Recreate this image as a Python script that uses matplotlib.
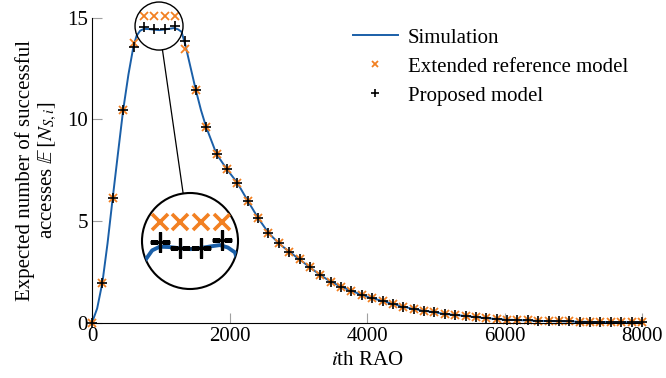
import numpy as np
import matplotlib
matplotlib.use("Agg")
import matplotlib.pyplot as plt
from matplotlib.patches import Circle, Ellipse
from matplotlib.lines import Line2D

plt.rcParams['font.family'] = ['Liberation Serif', 'DejaVu Serif']
plt.rcParams['mathtext.fontset'] = 'stix'
plt.rcParams['font.size'] = 15

# RAO index of the model samples
rao = np.linspace(0, 8000, 54)

proposed = [0, 1.97, 6.15, 10.45, 13.55, 14.55, 14.42, 14.42, 14.6, 13.86,
            11.45, 9.62, 8.29, 7.54, 6.88, 6.0, 5.15, 4.42, 3.90, 3.49,
            3.11, 2.72, 2.34, 2.02, 1.77, 1.57, 1.36, 1.20, 1.07, 0.92,
            0.79, 0.67, 0.59, 0.51, 0.43, 0.38, 0.33, 0.27, 0.22, 0.18,
            0.15, 0.13, 0.11, 0.09, 0.08, 0.07, 0.06, 0.05, 0.04, 0.035,
            0.03, 0.025, 0.02, 0.02]
extended = [0, 1.97, 6.15, 10.45, 13.75, 15.05, 15.05, 15.05, 15.05, 13.43,
            11.45, 9.62, 8.29, 7.54, 6.88, 6.0, 5.15, 4.42, 3.90, 3.49,
            3.11, 2.72, 2.34, 2.02, 1.77, 1.57, 1.36, 1.20, 1.07, 0.92,
            0.79, 0.67, 0.59, 0.51, 0.43, 0.38, 0.33, 0.27, 0.22, 0.18,
            0.15, 0.13, 0.11, 0.09, 0.08, 0.07, 0.06, 0.05, 0.04, 0.035,
            0.03, 0.025, 0.02, 0.02]

sim_x = [0, 75, 151, 226, 302, 377, 453, 530, 604, 648, 700, 755, 830, 906,
         980, 1057, 1130, 1193, 1250, 1302, 1358, 1430, 1509, 1585, 1660,
         1811, 1962, 2113, 2264, 2415, 2566, 2717, 2868, 3019, 3170, 3321,
         3472, 3623, 3774, 3925, 4075, 4226, 4377, 4528, 4679, 4830, 4981,
         5132, 5283, 5434, 5585, 5736, 5887, 6038, 6189, 6340, 6491, 6642,
         6792, 6943, 7094, 7245, 7396, 7547, 7698, 7849, 8000]
sim_y = [0, 0.7, 1.97, 3.9, 6.15, 8.3, 10.45, 12.2, 13.6, 14.1, 14.35, 14.44,
         14.43, 14.40, 14.38, 14.41, 14.45, 14.48, 14.42, 14.3, 13.65, 12.6,
         11.45, 10.45, 9.62, 8.29, 7.54, 6.88, 6.0, 5.15, 4.42, 3.90, 3.49,
         3.11, 2.72, 2.34, 2.02, 1.77, 1.57, 1.36, 1.20, 1.07, 0.92, 0.79,
         0.67, 0.59, 0.51, 0.43, 0.38, 0.33, 0.27, 0.22, 0.18, 0.15, 0.13,
         0.11, 0.09, 0.08, 0.07, 0.06, 0.05, 0.04, 0.035, 0.03, 0.025, 0.02,
         0.02]

blue = '#1a5fa8'
orange = '#f28022'

W, H = 666, 378
fig = plt.figure(figsize=(W / 100, H / 100), dpi=100)
ax = fig.add_axes([92 / W, 1 - 322.7 / H, 550 / W, 305.2 / H])


def draw(a, k=1.0):
    a.plot(sim_x, sim_y, color=blue, lw=1.4 * k, label='Simulation')
    a.plot(rao, extended, 'x', color=orange, ms=5.8 * k, mew=1.3 * k,
           label='Extended reference model')
    a.plot(rao, proposed, '+', color='black', ms=7.5 * k, mew=1.2 * k,
           label='Proposed model')


draw(ax)
for m in ax.lines[1:]:
    m.set_clip_on(False)
ax.set_xlim(0, 8000)
ax.set_ylim(0, 15)
ax.set_xticks([0, 2000, 4000, 6000, 8000])
ax.set_yticks([0, 5, 10, 15])
ax.spines['top'].set_visible(False)
ax.spines['right'].set_visible(False)
ax.tick_params(direction='in', color='#a0a0a0', length=7, width=0.8, pad=3)
ax.set_xlabel('$i$th RAO', labelpad=4)
ax.set_ylabel('Expected number of successful\naccesses $\\mathbb{E}\\,[N_{S,i}]$',
              labelpad=6, linespacing=1.1)
leg = ax.legend(loc='upper left', bbox_to_anchor=(0.44, 1.027), frameon=False,
                handlelength=2.15, labelspacing=0.45, handletextpad=0.5,
                markerscale=0.8)

# magnifier (spy) around the peak
cx, cy = 975, 14.58
rx, ry = 349, 1.18
ax.add_patch(Ellipse((cx, cy), 2 * rx, 2 * ry, fill=False, ec='black',
                     lw=1.0, clip_on=False, zorder=5))

ins = fig.add_axes([142 / W, 1 - 289 / H, 96 / W, 96 / H])
draw(ins, 2.0)
ins.set_xlim(cx - rx, cx + rx)
ins.set_ylim(cy - ry, cy + ry)
ins.axis('off')
clip = Circle((0.5, 0.5), 0.5, transform=ins.transAxes)
for art in ins.lines:
    art.set_clip_path(clip)
ins.add_patch(Circle((0.5, 0.5), 0.5, transform=ins.transAxes, fill=False,
                     ec='black', lw=1.5, clip_on=False))

# connecting line between the two circles
p1 = ax.transData.transform((cx, cy))
p2 = ins.transAxes.transform((0.5, 0.5))
d = (p2 - p1) / np.hypot(*(p2 - p1))
a1 = p1 + d * 24
a2 = p2 - d * 48
inv = fig.transFigure.inverted()
a1, a2 = inv.transform(a1), inv.transform(a2)
fig.lines.append(Line2D([a1[0], a2[0]], [a1[1], a2[1]], color='black',
                        lw=0.9, transform=fig.transFigure))

fig.savefig('out.png', dpi=100)
